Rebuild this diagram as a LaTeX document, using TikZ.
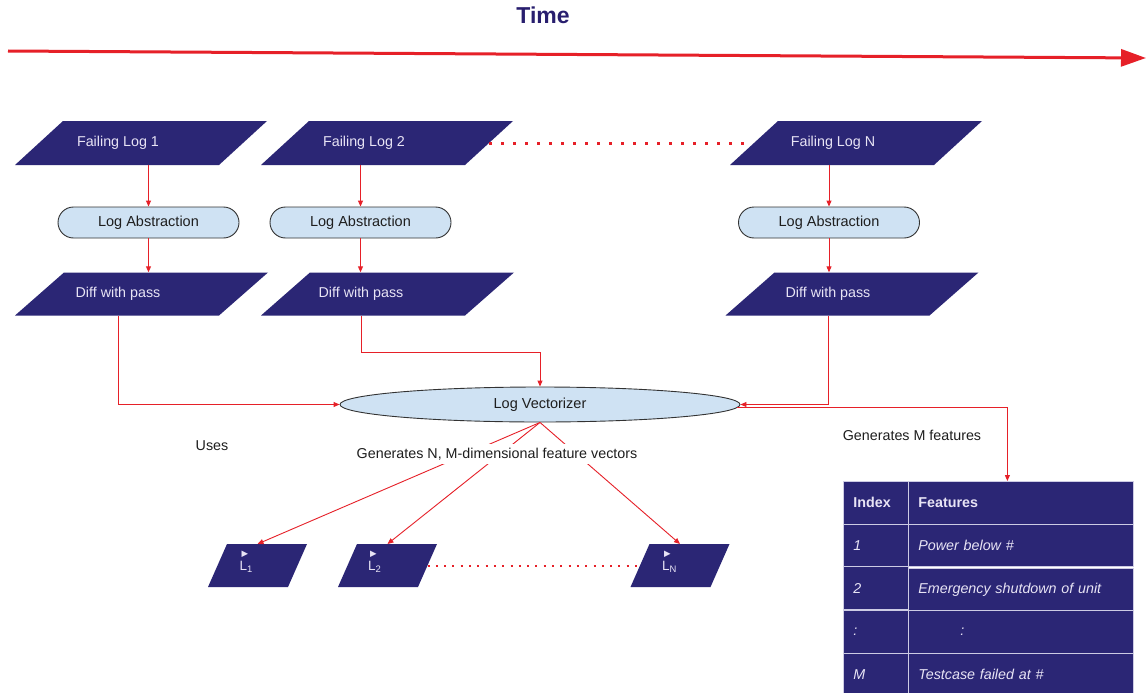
\documentclass[tikz,border=0pt]{standalone}
\usepackage{fontspec}
\setmainfont{Liberation Sans}
\newfontfamily\symfont{DejaVu Sans}
\usetikzlibrary{arrows.meta,calc,matrix,shapes.geometric}

\definecolor{navy}{RGB}{43,38,117}
\definecolor{paletext}{RGB}{232,228,245}
\definecolor{flowred}{RGB}{230,32,40}
\definecolor{pillblue}{RGB}{207,226,243}
\definecolor{ink}{RGB}{30,30,30}
\definecolor{titleblue}{RGB}{40,30,110}
\definecolor{tabline}{RGB}{205,203,228}

% slanted data box: name, x of bottom-edge middle, y of centre, width, height, skew
\newcommand\slantbox[6]{%
  \fill[boxfill] (#2-#4/2,#3+#5/2) -- (#2+#4/2,#3+#5/2) -- (#2+#4/2+#6,#3-#5/2) -- (#2-#4/2+#6,#3-#5/2) -- cycle;
  \coordinate (#1 top) at (#2+#6/2,#3-#5/2);
  \coordinate (#1 left) at (#2-#4/2+#6/2,#3);
  \coordinate (#1 right) at (#2+#4/2+#6/2,#3);
}
\newcommand\vecmark{\hspace*{2pt}{\symfont\fontsize{8.5}{8.5}\selectfont ▶}}

\tikzset{
  boxfill/.style={fill=navy},
  boxtext/.style={text=paletext, font=\fontsize{14.3}{16}\selectfont, inner sep=0pt, minimum height=43pt},
  veclabel/.style={text=paletext, font=\fontsize{13.5}{14}\selectfont, align=left, inner sep=0pt, anchor=west},
  pill/.style={draw=black!80, fill=pillblue, line width=0.9pt, rounded corners=15.5pt,
    minimum width=181pt, minimum height=31pt, inner sep=0pt, text=ink, font=\fontsize{14.5}{16}\selectfont},
  vect/.style={ellipse, draw=black!80, fill=pillblue, line width=0.9pt, minimum width=400pt,
    minimum height=35pt, inner sep=0pt, text=ink, font=\fontsize{14.5}{16}\selectfont},
  note/.style={text=ink, font=\fontsize{14.3}{16}\selectfont, inner sep=0pt},
  flow/.style={draw=flowred, line width=0.9pt, -{Triangle[length=6pt,width=5pt]}},
  timearrow/.style={draw=flowred, line width=3pt, -{Triangle[length=25pt,width=17pt]}},
  dotrow/.style={draw=flowred, line width=3pt, dash pattern=on 3pt off 9pt},
  dotrowsmall/.style={draw=flowred, line width=2pt, dash pattern=on 2pt off 6.3pt},
  tcell/.style={rectangle, draw=tabline, line width=0.8pt, fill=navy, text=paletext,
    minimum height=42.5pt, inner xsep=10pt, inner ysep=0pt, align=left,
    font=\fontsize{14.3}{16}\selectfont},
}

\begin{document}
\begin{tikzpicture}[x=1pt,y=-1pt]
\fill[white] (0,0) rectangle (1148,693);
\useasboundingbox (0,0) rectangle (1148,693);

% time axis
\node[text=titleblue, font=\fontsize{23}{25}\selectfont\bfseries] (time) at (543,15) {Time};
\coordinate (tstart) at (8,51);
\coordinate (tend) at (1146,58);
\draw[timearrow] (tstart) -- (tend);

% failing logs
\slantbox{fl1}{117}{143}{204}{44}{48}
\node[boxtext] (fl1) at (118,143) {Failing Log 1};
\slantbox{fl2}{363}{143}{204}{44}{48}
\node[boxtext] (fl2) at (364,143) {Failing Log 2};
\slantbox{fln}{832}{143}{204}{44}{48}
\node[boxtext] (fln) at (833,143) {Failing Log N};
\draw[dotrow, shorten >=8pt] (fl2 right) -- (fln left);

% abstraction step
\node[pill] (la1) at (148.5,222.5) {Log Abstraction};
\node[pill] (la2) at (360.5,222.5) {Log Abstraction};
\node[pill] (lan) at (829,222.5) {Log Abstraction};

% diffs against passing runs
\slantbox{d1}{117}{294}{204}{43}{49}
\node[boxtext] (d1) at (118,294) {Diff with pass};
\slantbox{d2}{363}{294}{204}{43}{49}
\node[boxtext] (d2) at (361,294) {Diff with pass};
\slantbox{dn}{827.5}{294}{204}{43}{49}
\node[boxtext] (dn) at (828,294) {Diff with pass};

\draw[flow] (fl1.south -| la1.north) -- (la1.north);
\draw[flow] (fl2.south -| la2.north) -- (la2.north);
\draw[flow] (fln.south -| lan.north) -- (lan.north);
\draw[flow] (la1.south) -- (la1.south |- d1.north);
\draw[flow] (la2.south) -- (la2.south |- d2.north);
\draw[flow] (lan.south) -- (lan.south |- dn.north);

% vectorizer
\node[vect] (lv) at (540,404.5) {Log Vectorizer};
\draw[flow] (d1.south) |- (lv.west);
\draw[flow] (d2.south) -- ++(0,37) -| (lv.north);
\draw[flow] (dn.south) |- (lv.east);

% feature table
\matrix (tab) [matrix of nodes, anchor=north west, inner sep=0pt, outer sep=0pt,
  row sep=-0.8pt, column sep=-0.8pt, nodes={tcell},
  column 1/.style={nodes={text width=45pt}},
  column 2/.style={nodes={text width=205pt}}] at (843,481) {
  \textbf{Index} & \textbf{Features} \\
  \textit{1} & \textit{Power below \#} \\
  \textit{2} & \textit{Emergency shutdown of unit} \\
  \textit{:} & \hspace*{42pt}\textit{:} \\
  \textit{M} & \textit{Testcase failed at \#} \\
};
\draw[flow] (lv.-1.5) -| ([xshift=19pt]tab.north);
\node[note] (mfeat) at (912,435) {Generates M features};

% feature vectors
\slantbox{l1}{248}{565.5}{80}{43}{19}
\node[veclabel] (l1) at (239.5,562) {\vecmark\\L\textsubscript{1}};
\slantbox{l2}{378}{565.5}{80}{43}{19}
\node[veclabel] (l2) at (368,562) {\vecmark\\L\textsubscript{2}};
\slantbox{ln}{670.5}{565.5}{80}{43}{19}
\node[veclabel] (ln) at (662,562) {\vecmark\\L\textsubscript{N}};
\draw[dotrowsmall] (l2 right) -- (ln left);

\draw[flow] (lv.south) -- (l1 top);
\draw[flow] (lv.south) -- (l2 top);
\draw[flow] (lv.south) -- (ln top);
\node[note, fill=white, inner xsep=2pt, inner ysep=3.5pt] (fanlbl) at (497,454) {Generates N, M-dimensional feature vectors};
\node[note] (uses) at (212,446) {Uses};
\end{tikzpicture}
\end{document}
